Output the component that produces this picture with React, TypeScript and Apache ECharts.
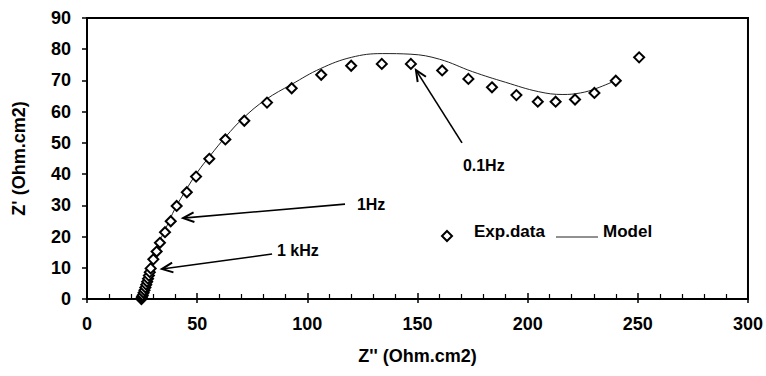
import React, { useEffect, useRef } from "react";
import * as echarts from "echarts";

// Experimental data (Z'' real part, Z' imaginary part), Ohm.cm2
const expX = [
  24.7, 24.8, 25.0, 25.3, 25.7, 26.1, 26.5, 26.9, 27.3, 27.7, 28.1, 28.5, 28.9,
  30.1, 31.6, 33.1, 35.4, 38.0, 40.7, 45.3, 49.5, 55.5, 62.8, 71.4, 81.7, 92.9,
  106.3, 119.9, 133.8, 147.0, 161.2, 173.1, 183.8, 194.9, 204.6, 212.7, 221.5,
  230.3, 240.0, 250.6,
];
const expY = [
  0.0, 0.3, 0.7, 1.2, 2.0, 2.8, 3.7, 4.6, 5.5, 6.5, 7.5, 8.6, 9.8,
  12.7, 15.2, 18.0, 21.4, 24.9, 29.8, 34.2, 39.2, 44.9, 51.1, 57.1, 62.9, 67.5,
  71.8, 74.7, 75.3, 75.3, 73.2, 70.5, 67.8, 65.3, 63.2, 63.2, 63.9,
  66.0, 69.9, 77.4,
];

// Model curve
const modelX = [
  24.7, 26, 28, 30, 33, 36, 40, 45, 50, 56, 63, 71, 81, 93, 106, 120, 134, 147,
  160, 175, 190, 205, 216, 224, 231, 240,
];
const modelY = [
  0, 3, 8, 12.5, 18.5, 23, 29, 35, 40.5, 46, 52, 58, 63.8, 68.8, 73.8, 77.4,
  78.6, 78.4, 76.8, 72.8, 69.4, 66.4, 65.5, 66, 67.4, 70,
];

// Frequency annotations (arrow tail -> tip, label anchor), in data units
const annLabels = ["0.1Hz", "1Hz", "1 kHz"];
const annTailX = [170.2, 117.1, 84];
const annTailY = [50.0, 30.4, 14.4];
const annTipX = [149.3, 43.6, 34.0];
const annTipY = [73.3, 25.9, 9.6];
const annTextX = [170.6, 122.5, 86.2];
const annTextY = [42.6, 30.4, 15.4];

const xTicks = [0, 50, 100, 150, 200, 250, 300];
const yTicks = [0, 10, 20, 30, 40, 50, 60, 70, 80, 90];

const FONT = '"Liberation Sans", Arial, sans-serif';

export default function App() {
  const ref = useRef<HTMLDivElement>(null);

  useEffect(() => {
    if (!ref.current) return;
    const chart = echarts.init(ref.current, null, { renderer: "svg" });

    const expData = expX.map((x, i) => [x, expY[i]]);
    const modelData = modelX.map((x, i) => [x, modelY[i]]);
    const annData = annLabels.map((_, i) => [
      annTailX[i],
      annTailY[i],
      annTipX[i],
      annTipY[i],
      annTextX[i],
      annTextY[i],
    ]);

    const labelStyle = {
      color: "#000",
      fontFamily: FONT,
      fontWeight: "bold" as const,
      fontSize: 18,
    };

    chart.setOption({
      animation: false,
      backgroundColor: "#fff",
      grid: {
        left: 87,
        right: 18,
        top: 18,
        bottom: 77,
        show: true,
        borderColor: "#000",
        borderWidth: 2,
        backgroundColor: "transparent",
      },
      xAxis: [
        {
          type: "value",
          min: xTicks[0],
          max: xTicks[xTicks.length - 1],
          interval: 50,
          name: "Z'' (Ohm.cm2)",
          nameLocation: "middle",
          nameGap: 48,
          nameTextStyle: { ...labelStyle, fontSize: 18 },
          axisLine: { show: true, lineStyle: { color: "#000", width: 2 } },
          axisTick: { show: true, inside: true, length: 6, lineStyle: { color: "#000", width: 1.5 } },
          minorTick: { show: true, splitNumber: 5, length: 5, lineStyle: { color: "#000", width: 1.2 } },
          axisLabel: { ...labelStyle, margin: 16 },
          splitLine: { show: false },
        },
        {
          type: "value",
          position: "bottom",
          offset: 0,
          min: xTicks[0],
          max: xTicks[xTicks.length - 1],
          interval: 50,
          axisLine: { show: false },
          axisTick: { show: true, inside: false, length: 4, lineStyle: { color: "#000", width: 1.5 } },
          axisLabel: { show: false },
          splitLine: { show: false },
        },
      ],
      yAxis: {
        type: "value",
        min: yTicks[0],
        max: yTicks[yTicks.length - 1],
        interval: 10,
        name: "Z' (Ohm.cm2)",
        nameLocation: "middle",
        nameGap: 59,
        nameRotate: 90,
        nameTextStyle: { ...labelStyle, fontSize: 18 },
        axisLine: { show: true, lineStyle: { color: "#000", width: 2 } },
        axisTick: { show: true, inside: false, length: 5, lineStyle: { color: "#000", width: 1.5 } },
        axisLabel: { ...labelStyle, margin: 16 },
        splitLine: { show: false },
      },
      series: [
        {
          name: "Model",
          type: "line",
          data: modelData,
          smooth: 0.4,
          showSymbol: false,
          symbol: "none",
          lineStyle: { color: "#222", width: 1 },
          z: 2,
        },
        {
          name: "Exp.data",
          type: "scatter",
          data: expData,
          symbol: "diamond",
          symbolSize: 10,
          itemStyle: { color: "#fff", borderColor: "#000", borderWidth: 2, opacity: 1 },
          z: 3,
        },
        {
          name: "annotations",
          type: "custom",
          coordinateSystem: "cartesian2d",
          data: annData,
          encode: { x: [0, 2, 4], y: [1, 3, 5] },
          clip: false,
          z: 4,
          renderItem: (params: any, api: any) => {
            const i = params.dataIndex;
            const tail = api.coord([api.value(0), api.value(1)]);
            const tip = api.coord([api.value(2), api.value(3)]);
            const txt = api.coord([api.value(4), api.value(5)]);
            const a = Math.atan2(tip[1] - tail[1], tip[0] - tail[0]);
            const L = 12;
            const s = 0.42;
            const p1 = [tip[0] - L * Math.cos(a - s), tip[1] - L * Math.sin(a - s)];
            const p2 = [tip[0] - L * Math.cos(a + s), tip[1] - L * Math.sin(a + s)];
            return {
              type: "group",
              children: [
                {
                  type: "line",
                  shape: { x1: tail[0], y1: tail[1], x2: tip[0], y2: tip[1] },
                  style: { stroke: "#000", lineWidth: 1.6 },
                },
                {
                  type: "polyline",
                  shape: { points: [p1, tip, p2] },
                  style: { stroke: "#000", lineWidth: 2, fill: null },
                },
                {
                  type: "text",
                  x: txt[0],
                  y: txt[1],
                  style: {
                    text: annLabels[i],
                    fill: "#000",
                    font: `bold 16px ${FONT}`,
                    align: "left",
                    verticalAlign: "middle",
                  },
                },
              ],
            };
          },
        },
      ],
      graphic: [
        {
          type: "polygon",
          shape: { points: [[447, 231], [452, 236], [447, 241], [442, 236]] },
          style: { fill: "#fff", stroke: "#000", lineWidth: 2 },
          z: 10,
        },
        {
          type: "text",
          x: 474,
          y: 231,
          style: {
            text: "Exp.data",
            fill: "#000",
            font: `bold 17px ${FONT}`,
            verticalAlign: "middle",
          },
          z: 10,
        },
        {
          type: "line",
          shape: { x1: 556, y1: 237, x2: 598, y2: 237 },
          style: { stroke: "#222", lineWidth: 1 },
          z: 10,
        },
        {
          type: "text",
          x: 603,
          y: 231,
          style: {
            text: "Model",
            fill: "#000",
            font: `bold 17px ${FONT}`,
            verticalAlign: "middle",
          },
          z: 10,
        },
      ],
    });

    return () => chart.dispose();
  }, []);

  return (
    <div
      ref={ref}
      style={{ position: "fixed", left: 0, top: 0, width: 766, height: 376, background: "#fff" }}
    />
  );
}
